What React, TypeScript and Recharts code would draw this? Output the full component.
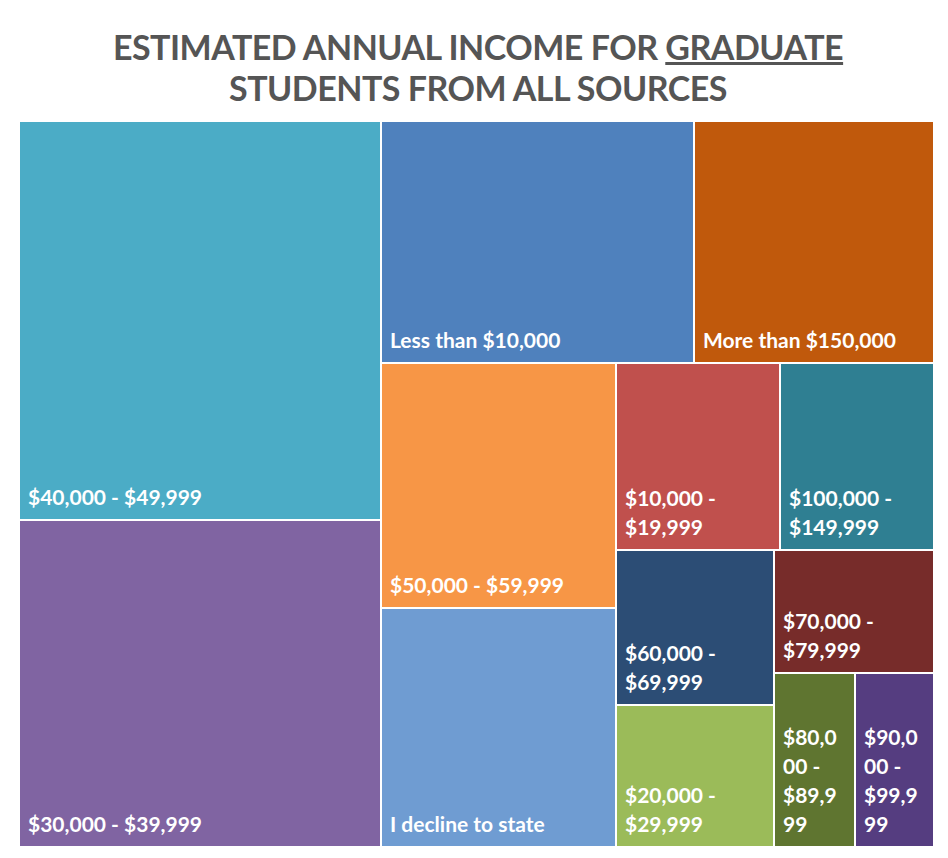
import React from 'react';
import { Treemap } from 'recharts';

// income bands, largest first (same order the treemap lays them out)
const categories = [
  '$40,000 - $49,999',
  '$30,000 - $39,999',
  'Less than $10,000',
  'More than $150,000',
  '$50,000 - $59,999',
  'I decline to state',
  '$10,000 - $19,999',
  '$100,000 - $149,999',
  '$60,000 - $69,999',
  '$20,000 - $29,999',
  '$70,000 - $79,999',
  '$80,000 - $89,999',
  '$90,000 - $99,999',
];

// share of respondents (%), read from tile areas
const shares = [21.74, 17.82, 11.4, 8.74, 8.67, 8.45, 4.62, 4.34, 3.69, 3.38, 2.96, 2.12, 2.07];

const colors = [
  '#4BACC6', '#8064A2', '#4F81BD', '#C0590C', '#F79646', '#6F9CD2', '#C0504D',
  '#2F7F92', '#2C4D75', '#9BBB59', '#772C2A', '#5F7530', '#553D80',
];

const data = categories.map((name, i) => ({ name, value: shares[i], color: colors[i] }));

const LABEL_FONT = 'bold 21px Lato';

let ctx: CanvasRenderingContext2D | null = null;
const measure = (s: string) => {
  if (!ctx) ctx = document.createElement('canvas').getContext('2d');
  if (!ctx) return s.length * 11;
  ctx.font = LABEL_FONT;
  return ctx.measureText(s).width;
};

// wrap like Excel does: by word, and by character when a word is too long
const wrapLabel = (text: string, maxWidth: number) => {
  const lines: string[] = [];
  let cur = '';
  for (const w of text.split(' ')) {
    const trial = cur ? cur + ' ' + w : w;
    if (measure(trial) <= maxWidth) {
      cur = trial;
      continue;
    }
    if (cur) lines.push(cur);
    let piece = '';
    for (const ch of w) {
      if (!piece || measure(piece + ch) <= maxWidth) piece += ch;
      else {
        lines.push(piece);
        piece = ch;
      }
    }
    cur = piece;
  }
  if (cur) lines.push(cur);
  return lines;
};

const TileContent = (props: any) => {
  const { x, y, width, height, depth, name, color } = props;
  if (depth !== 1) return <g />;
  const lines = wrapLabel(name, width - 20);
  const baseY = y + height - 15;
  return (
    <g>
      <rect x={x} y={y} width={width} height={height} fill={color} stroke="#fff" strokeWidth={2} />
      <text
        x={x + 9}
        fill="#fff"
        fontFamily="Lato"
        fontWeight="bold"
        fontSize={21}
      >
        {lines.map((ln, i) => (
          <tspan key={i} x={x + 9} y={baseY - (lines.length - 1 - i) * 29}>
            {ln}
          </tspan>
        ))}
      </text>
    </g>
  );
};

export default function App() {
  return (
    <div style={{ position: 'relative', width: 932, height: 842, fontFamily: 'Lato' }}>
      <div
        style={{
          position: 'absolute',
          left: -4,
          top: -4,
          width: 936,
          height: 848,
          border: '1px solid #d9d9d9',
        }}
      />
      <div
        style={{
          position: 'absolute',
          left: 0,
          top: 18,
          width: 940,
          textAlign: 'center',
          color: '#555',
          fontWeight: 'bold',
          fontSize: 34,
          letterSpacing: -0.5,
          lineHeight: '41px',
        }}
      >
        ESTIMATED ANNUAL INCOME FOR <u>GRADUATE</u>
        <br />
        STUDENTS FROM ALL SOURCES
      </div>
      <div style={{ position: 'absolute', left: 11, top: 113 }}>
        <Treemap
          width={915}
          height={726}
          data={data}
          dataKey="value"
          nameKey="name"
          aspectRatio={1.18}
          isAnimationActive={false}
          content={<TileContent />}
        />
      </div>
    </div>
  );
}
